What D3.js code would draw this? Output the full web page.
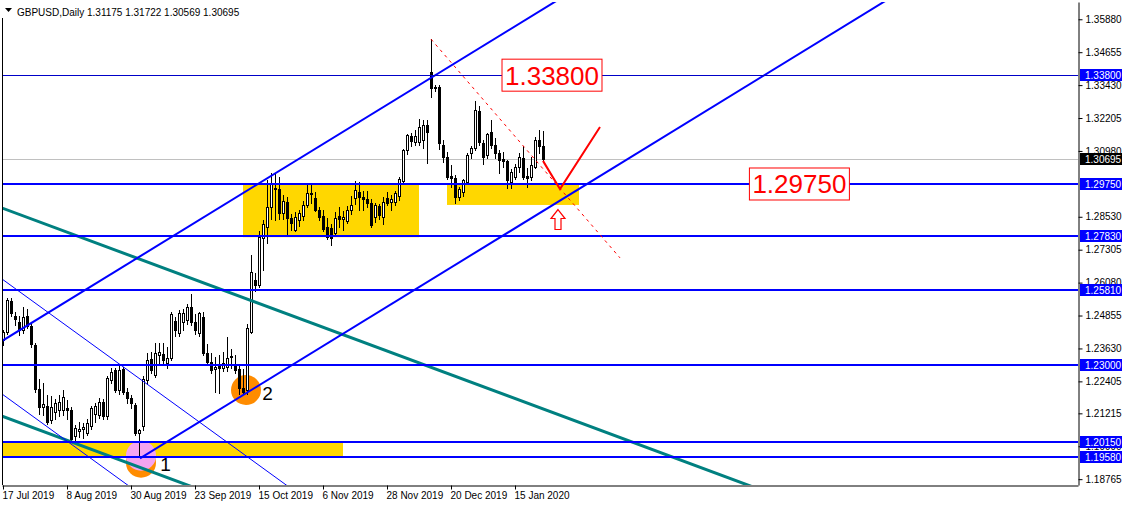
<!DOCTYPE html>
<html><head><meta charset="utf-8">
<script src="https://cdnjs.cloudflare.com/ajax/libs/d3/7.8.5/d3.min.js"></script>
<style>html,body{margin:0;padding:0;background:#fff;overflow:hidden}svg{display:block}
text{font-family:"Liberation Sans",Arial,sans-serif}</style>
</head><body><svg id="c" width="1125" height="505"></svg>
<script>
// ---------- DATA ----------
const symbolTitle = "GBPUSD,Daily";
const lastOHLC = ["1.31175","1.31722","1.30569","1.30695"];
const tickBars = [0,16,32,48,64,80,96,112,128];
const tickLabels = ["17 Jul 2019","8 Aug 2019","30 Aug 2019","23 Sep 2019","15 Oct 2019","6 Nov 2019","28 Nov 2019","20 Dec 2019","15 Jan 2020"];
const priceTicks = [1.35880,1.34655,1.33430,1.32205,1.30980,1.28530,1.27305,1.26080,1.24855,1.23630,1.22405,1.21215,1.19990,1.18765];
const opens = [1.2394,1.2425,1.2541,1.2484,1.2463,1.2432,1.2485,1.2448,1.2375,1.2212,
1.2145,1.2150,1.2095,1.2127,1.2135,1.2134,1.2140,1.2134,1.2038,1.2055,
1.2062,1.2050,1.2075,1.2120,1.2115,1.2165,1.2110,1.2246,1.2283,1.2208,
1.2287,1.2202,1.2178,1.2153,1.2050,1.2075,1.2245,1.2324,1.2264,1.2339,
1.2342,1.2309,1.2327,1.2465,1.2420,1.2461,1.2469,1.2519,1.2463,1.2420,
1.2481,1.2346,1.2314,1.2285,1.2298,1.2290,1.2294,1.2330,1.2300,1.2287,
1.2216,1.2208,1.2425,1.2618,1.2600,1.2774,1.2816,1.2890,1.2955,1.2956,
1.2868,1.2909,1.2848,1.2804,1.2841,1.2857,1.2897,1.2942,1.2923,1.2878,
1.2855,1.2816,1.2811,1.2793,1.2855,1.2845,1.2838,1.2878,1.2922,1.2946,
1.2925,1.2919,1.2905,1.2853,1.2893,1.2853,1.2923,1.2908,1.2909,1.2930,
1.2987,1.3101,1.3154,1.3132,1.3132,1.3139,1.3195,1.3393,1.3331,1.3335,
1.3120,1.3077,1.3006,1.2997,1.2928,1.2946,1.2984,1.3089,1.3108,1.3247,
1.3126,1.3083,1.3170,1.3120,1.3089,1.3068,1.3060,1.2984,1.3002,1.3039,
1.3071,1.3006,1.3002,1.3039,1.3139,1.31175];
const highs = [1.2430,1.2552,1.2552,1.2500,1.2485,1.2519,1.2510,1.2460,1.2385,1.2250,
1.2235,1.2190,1.2185,1.2175,1.2190,1.2210,1.2170,1.2145,1.2078,1.2090,
1.2085,1.2100,1.2150,1.2160,1.2180,1.2175,1.2260,1.2290,1.2290,1.2301,
1.2295,1.2215,1.2190,1.2160,1.2062,1.2260,1.2345,1.2350,1.2385,1.2385,
1.2385,1.2370,1.2500,1.2480,1.2505,1.2510,1.2530,1.2565,1.2490,1.2500,
1.2500,1.2380,1.2345,1.2330,1.2340,1.2350,1.2407,1.2360,1.2340,1.2300,
1.2285,1.2455,1.2710,1.2645,1.2800,1.2840,1.2990,1.3015,1.3012,1.3000,
1.2935,1.2925,1.2865,1.2870,1.2880,1.2910,1.2978,1.2975,1.2945,1.2890,
1.2880,1.2850,1.2825,1.2870,1.2890,1.2875,1.2893,1.2930,1.2985,1.2982,
1.2950,1.2950,1.2920,1.2905,1.2900,1.2925,1.2945,1.2935,1.2950,1.3002,
1.3105,1.3160,1.3165,1.3176,1.3217,1.3215,1.3215,1.3514,1.3345,1.3345,
1.3140,1.3095,1.3045,1.3010,1.2965,1.2995,1.3090,1.3118,1.3285,1.3265,
1.3140,1.3165,1.3213,1.3145,1.3100,1.3095,1.3065,1.3030,1.3050,1.3090,
1.3115,1.3035,1.3077,1.3150,1.3176,1.31722];
const lows = [1.2376,1.2415,1.2485,1.2450,1.2412,1.2420,1.2440,1.2370,1.2200,1.2120,
1.2115,1.2080,1.2085,1.2100,1.2110,1.2115,1.2100,1.2015,1.2013,1.2035,
1.2030,1.2040,1.2065,1.2090,1.2105,1.2100,1.2100,1.2235,1.2200,1.2195,
1.2195,1.2160,1.2140,1.2040,1.1958,1.2060,1.2230,1.2270,1.2255,1.2305,
1.2300,1.2290,1.2320,1.2410,1.2410,1.2430,1.2455,1.2450,1.2415,1.2410,
1.2340,1.2300,1.2270,1.2202,1.2197,1.2280,1.2280,1.2290,1.2270,1.2195,
1.2195,1.2195,1.2420,1.2575,1.2590,1.2655,1.2755,1.2845,1.2841,1.2845,
1.2845,1.2785,1.2805,1.2800,1.2820,1.2840,1.2890,1.2905,1.2875,1.2840,
1.2800,1.2770,1.2748,1.2780,1.2815,1.2805,1.2830,1.2865,1.2900,1.2880,
1.2880,1.2890,1.2815,1.2835,1.2845,1.2825,1.2895,1.2880,1.2895,1.2915,
1.2980,1.3085,1.3115,1.3120,1.3120,1.3110,1.3053,1.3300,1.3320,1.3105,
1.3055,1.2995,1.2965,1.2904,1.2915,1.2930,1.2975,1.3070,1.3100,1.3120,
1.3050,1.3070,1.3110,1.3070,1.3015,1.3040,1.2960,1.2960,1.2995,1.3020,
1.2995,1.2962,1.2990,1.3035,1.3090,1.30569];
const closes = [1.2425,1.2543,1.2496,1.2471,1.2432,1.2480,1.2448,1.2378,1.2212,1.2145,
1.2156,1.2090,1.2146,1.2160,1.2165,1.2184,1.2134,1.2025,1.2068,1.2063,
1.2070,1.2086,1.2141,1.2150,1.2165,1.2112,1.2253,1.2277,1.2208,1.2283,
1.2202,1.2177,1.2160,1.2047,1.2058,1.2250,1.2320,1.2283,1.2346,1.2350,
1.2320,1.2327,1.2491,1.2432,1.2495,1.2495,1.2517,1.2463,1.2432,1.2495,
1.2346,1.2313,1.2283,1.2295,1.2290,1.2310,1.2327,1.2334,1.2283,1.2216,
1.2200,1.2439,1.2649,1.2600,1.2779,1.2825,1.2891,1.2980,1.2960,1.2868,
1.2912,1.2847,1.2830,1.2853,1.2867,1.2897,1.2941,1.2939,1.2878,1.2853,
1.2808,1.2779,1.2774,1.2848,1.2845,1.2853,1.2878,1.2897,1.2953,1.2927,
1.2920,1.2904,1.2822,1.2897,1.2860,1.2909,1.2905,1.2920,1.2941,1.2994,
1.3101,1.3157,1.3134,1.3154,1.3188,1.3195,1.3170,1.3331,1.3336,1.3126,
1.3077,1.3002,1.2996,1.2928,1.2956,1.2990,1.3083,1.3108,1.3250,1.3132,
1.3077,1.3160,1.3120,1.3089,1.3064,1.3060,1.2990,1.3021,1.3039,1.3077,
1.3002,1.2996,1.3046,1.3139,1.31175,1.30695];
// horizontal levels (blue, thick) and the thin one
const levelPrices = [1.29750,1.27830,1.25810,1.23000,1.20150,1.19580];
const thinLevel = 1.33800;
const currentPrice = 1.30695;
// drawn objects, in [bar index, price]
const channelUpper = [[-0.25,1.23907],[137.5,1.36486]];
const channelLower = [[34.25,1.19542],[219.75,1.36486]];
const tealUpper = [[-0.25,1.28857],[185.5,1.18585]];
const tealLower = [[0.075,1.21090],[35.9,1.19110]];
const thinUpper = [[-0.25,1.26215],[64.25,1.19255]];
const thinLower = [[-0.25,1.21935],[64.25,1.14975]];
const rectangles = [[60,104,1.27770,1.29770],[111,144,1.28970,1.29760],[-2,85,1.19580,1.20150]];
const redDotted = [[107,1.3514],[154.25,1.2700]];
const redV = [[135,1.3061],[139.25,1.2956],[149.25,1.3187]];
const arrowAt = [138.75,1.2880];
const circles = [{i:34.5,p:1.19380,c:"#ff8c00"},{i:34.5,p:1.19640,c:"#f4a4f0"},{i:60.75,p:1.22084,c:"#ff8c00"}];
const pointLabels = [{t:"1",i:39.3,p:1.19070},{t:"2",i:64.8,p:1.21700}];
const boxLabels = [{t:"1.33800",i:137.25,p:1.33800},{t:"1.29750",i:199.1,p:1.29750}];

// ---------- SCALES ----------
const L=2, R=1078, T=2, B=485;
const x = d3.scaleLinear().domain([-0.25,268.75]).range([L,R]);
const y = d3.scaleLinear().domain([1.18548,1.36523]).range([B,T]);
const svg = d3.select("#c");
svg.append("rect").attr("width",1125).attr("height",505).attr("fill","#fff");
svg.append("defs").append("clipPath").attr("id","plot").append("rect")
  .attr("x",L).attr("y",T).attr("width",R-L).attr("height",B-T);
const g = svg.append("g").attr("clip-path","url(#plot)");

// background objects
g.selectAll(".yr").data(rectangles).join("rect")
  .attr("x",d=>x(d[0])).attr("width",d=>x(d[1])-x(d[0]))
  .attr("y",d=>y(d[3])).attr("height",d=>y(d[2])-y(d[3])).attr("fill","#ffd700");
g.selectAll(".ci").data(circles).join("circle")
  .attr("cx",d=>x(d.i)).attr("cy",d=>y(d.p)).attr("r",15).attr("fill",d=>d.c);

// current price line
g.append("line").attr("x1",L).attr("x2",R).attr("y1",Math.round(y(currentPrice))+0.5).attr("y2",Math.round(y(currentPrice))+0.5)
  .attr("stroke","#c0c0c0").attr("stroke-width",1);

// candles
const idx = d3.range(opens.length);
const cg = g.append("g").attr("shape-rendering","crispEdges");
idx.forEach(i=>{
  const cx = Math.round(x(i));
  const o=opens[i], c=closes[i];
  const yh=Math.round(y(highs[i])), yl=Math.round(y(lows[i]));
  const top=Math.round(y(Math.max(o,c))), bot=Math.round(y(Math.min(o,c)));
  cg.append("rect").attr("x",cx).attr("y",yh).attr("width",1).attr("height",Math.max(1,yl-yh+1)).attr("fill","#000");
  const h=Math.max(1,bot-top+1);
  cg.append("rect").attr("x",cx-1).attr("y",top).attr("width",3).attr("height",h).attr("fill","#000");
  if(c>=o && h>2) cg.append("rect").attr("x",cx).attr("y",top+1).attr("width",1).attr("height",h-2).attr("fill","#fff");
});

// helper: ray from p1 through p2 extended to the right
function ray(pts, extendLeft){
  const [a,b]=pts; const s=(b[1]-a[1])/(b[0]-a[0]);
  const i0 = extendLeft ? -10 : a[0]; const i1 = 300;
  return [[i0, a[1]+s*(i0-a[0])],[i1, a[1]+s*(i1-a[0])]];
}
const lineGen = d3.line().x(d=>x(d[0])).y(d=>y(d[1]));
const rays = [
  {p:ray(tealUpper,true),c:"#008080",w:3},
  {p:ray(tealLower,true),c:"#008080",w:3},
  {p:ray(thinUpper,true),c:"#0000ff",w:1},
  {p:ray(thinLower,true),c:"#0000ff",w:1},
  {p:ray(channelUpper,true),c:"#0000ff",w:2},
  {p:ray(channelLower,false),c:"#0000ff",w:2}
];
g.selectAll(".ray").data(rays).join("path").attr("d",d=>lineGen(d.p))
  .attr("fill","none").attr("stroke",d=>d.c).attr("stroke-width",d=>d.w);

// horizontal levels
g.selectAll(".lv").data(levelPrices).join("line")
  .attr("x1",L).attr("x2",R).attr("y1",d=>Math.round(y(d))).attr("y2",d=>Math.round(y(d)))
  .attr("stroke","#0000ff").attr("stroke-width",2);
g.append("line").attr("x1",L).attr("x2",R).attr("y1",Math.round(y(thinLevel))+0.5).attr("y2",Math.round(y(thinLevel))+0.5)
  .attr("stroke","#0000c8").attr("stroke-width",1);

// red objects
g.append("path").attr("d",lineGen(redDotted)).attr("fill","none").attr("stroke","#ff0000").attr("stroke-width",1).attr("stroke-dasharray","3,4");
g.append("path").attr("d",lineGen(redV)).attr("fill","none").attr("stroke","#ff0000").attr("stroke-width",2);
{
  const ax=x(arrowAt[0]), ay=y(arrowAt[1]);
  const pts=[[0,0],[7,9],[3,9],[3,20],[-3,20],[-3,9],[-7,9]].map(p=>[ax+p[0],ay+p[1]]);
  g.append("polygon").attr("points",pts.map(p=>p.join(",")).join(" ")).attr("fill","#fff").attr("stroke","#ff0000").attr("stroke-width",1.2);
}
// text objects
g.selectAll(".pl").data(pointLabels).join("text").attr("x",d=>x(d.i)).attr("y",d=>y(d.p))
  .attr("font-size",19).attr("fill","#000").text(d=>d.t);
boxLabels.forEach(d=>{
  const t = g.append("text").attr("x",x(d.i)).attr("y",y(d.p)).attr("dy","0.36em").attr("text-anchor","middle")
    .attr("font-size",26).attr("fill","#ff0000").text(d.t);
  const bb=t.node().getBBox();
  g.insert("rect","text").attr("x",bb.x-3).attr("y",y(d.p)-16).attr("width",bb.width+6).attr("height",32)
    .attr("fill","#fff").attr("stroke","#ff0000").attr("stroke-width",1);
  t.raise();
});

// ---------- AXES ----------
const yAxis = d3.axisRight(y).tickValues(priceTicks).tickSize(4).tickSizeOuter(0).tickPadding(3).tickFormat(d3.format(".5f"));
const ya = svg.append("g").attr("transform",`translate(${R+0.5},0)`).call(yAxis);
ya.selectAll("text").attr("font-size",10).attr("fill","#000");
ya.select(".domain").attr("stroke","#000");
const xAxis = d3.axisBottom(x).tickValues(tickBars).tickSize(4).tickSizeOuter(0).tickFormat((d,k)=>tickLabels[k]);
const xa = svg.append("g").attr("transform",`translate(0,${B+0.5})`).call(xAxis);
xa.selectAll("text").attr("font-size",10).attr("fill","#000").attr("text-anchor","start").attr("dx","-0.1em").attr("dy","0.6em");
// left frame
svg.append("line").attr("x1",L+0.5).attr("x2",L+0.5).attr("y1",18).attr("y2",B).attr("stroke","#000");

// level labels on axis
const tagData = levelPrices.map(p=>({p,bg:"#0000ff"})).concat([{p:thinLevel,bg:"#0000ff"},{p:currentPrice,bg:"#000"}]);
const tags = svg.selectAll(".tag").data(tagData).join("g").attr("transform",d=>`translate(${R+1},${Math.round(y(d.p))})`);
tags.append("rect").attr("x",1).attr("y",-6).attr("width",42).attr("height",12).attr("fill",d=>d.bg);
tags.append("text").attr("x",6).attr("dy","0.35em").attr("font-size",10).attr("fill","#fff").text(d=>d3.format(".5f")(d.p));

// header
svg.append("path").attr("d","M5,8 L12,8 L8.5,12 Z").attr("fill","#000");
svg.append("text").attr("x",17).attr("y",16).attr("font-size",10).attr("fill","#000")
  .text(symbolTitle+" "+lastOHLC.join(" "));
</script></body></html>
